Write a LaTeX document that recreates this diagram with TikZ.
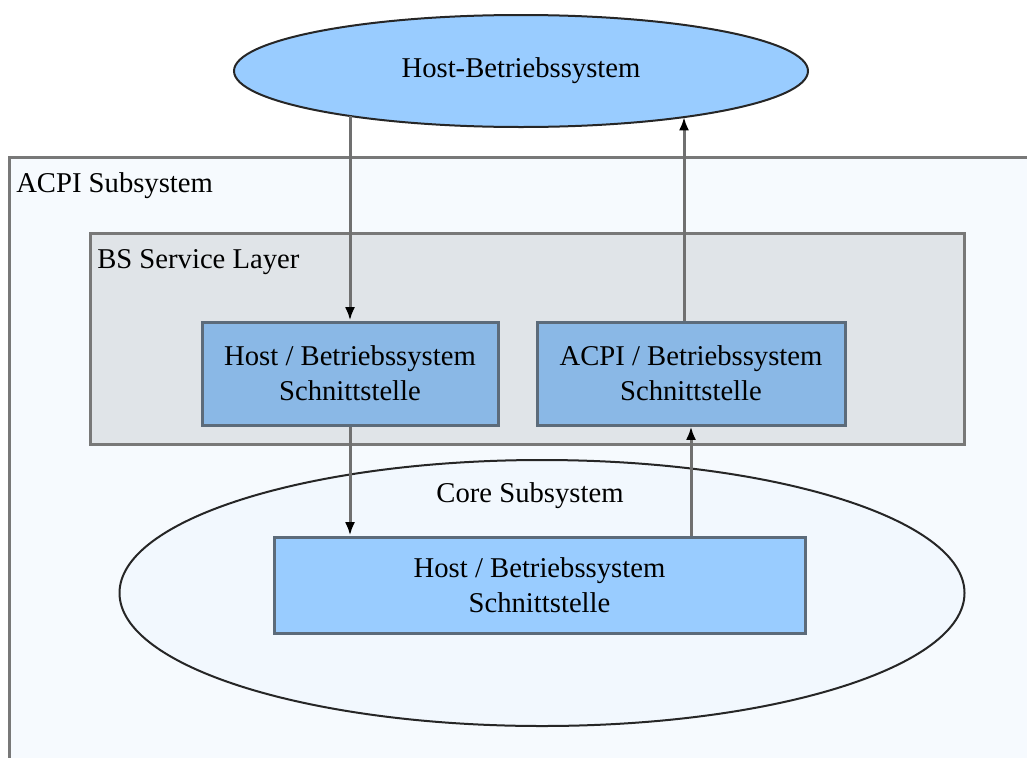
\documentclass[tikz,border=0pt]{standalone}
\usepackage{fontspec}
\setmainfont{Liberation Serif}
\usetikzlibrary{arrows.meta,shapes.geometric,calc}
\definecolor{outerfill}{HTML}{F6FAFE}
\definecolor{layerfill}{HTML}{E0E4E8}
\definecolor{ifbox}{HTML}{8AB8E6}
\definecolor{lightblue}{HTML}{99CCFF}
\definecolor{coreell}{HTML}{F2F8FE}
\definecolor{framegray}{HTML}{787878}
\definecolor{boxborder}{HTML}{5C6B7A}
\definecolor{linegray}{HTML}{707070}
\tikzset{
  txt/.style={font=\fontsize{21.5}{26}\selectfont, align=center},
  frame/.style={draw=framegray, line width=2.25pt},
  ifacebox/.style={txt, draw=boxborder, line width=2.25pt, rectangle, inner sep=0pt},
  ell/.style={txt, ellipse, draw=black!85, line width=1.5pt, inner sep=0pt},
  conn/.style={draw=linegray, line width=2.25pt, -{Latex[color=black,length=10pt,width=7.5pt]}},
}
\begin{document}
\begin{tikzpicture}[x=0.75pt,y=-0.75pt]
\useasboundingbox (0,0) rectangle (1027,757);
\clip (0,0) rectangle (1027,757);
\fill[white] (0,0) rectangle (1027,757);
% outer ACPI subsystem frame
\draw[frame, fill=outerfill] (9,157) rectangle (1050,790);
\node[txt, anchor=west, inner sep=0pt] (acpilbl) at (16,186) {ACPI Subsystem};
% BS Service Layer
\node[frame, fill=layerfill, rectangle, minimum width=655.5pt, minimum height=158.25pt, inner sep=0pt] (layer) at (527,338.5) {};
\node[txt, anchor=west, inner sep=0pt] (layerlbl) at (97,262) {BS Service Layer};
% interface boxes
\node[ifacebox, fill=ifbox, minimum width=222pt, minimum height=77.25pt] (box1) at (350,373.5) {Host / Betriebssystem\\Schnittstelle};
\node[ifacebox, fill=ifbox, minimum width=231pt, minimum height=77.25pt] (box2) at (691,373.5) {ACPI / Betriebssystem\\Schnittstelle};
% core subsystem
\node[ell, fill=coreell, minimum width=633.75pt, minimum height=199.5pt] (core) at (542,593) {};
\node[txt, inner sep=0pt] (corelbl) at (530,496) {Core Subsystem};
\node[ifacebox, fill=lightblue, minimum width=398.25pt, minimum height=72pt] (corebox) at (539.5,585) {Host / Betriebssystem\\Schnittstelle};
% host OS
\node[ell, fill=lightblue, minimum width=430.5pt, minimum height=84pt] (host) at (521,71) {Host-Betriebssystem};
% connectors
\draw[conn] ($(host.center)+(-171,45)$) -- (box1.north);
\draw[conn] (box1.south) -- (corebox.north -| box1.south);
\draw[conn] (corebox.north -| box2.south) -- (box2.south);
\draw[conn] ([xshift=-5.25pt]box2.north) -- ($(host.center)+(163,46)$);
\end{tikzpicture}
\end{document}
